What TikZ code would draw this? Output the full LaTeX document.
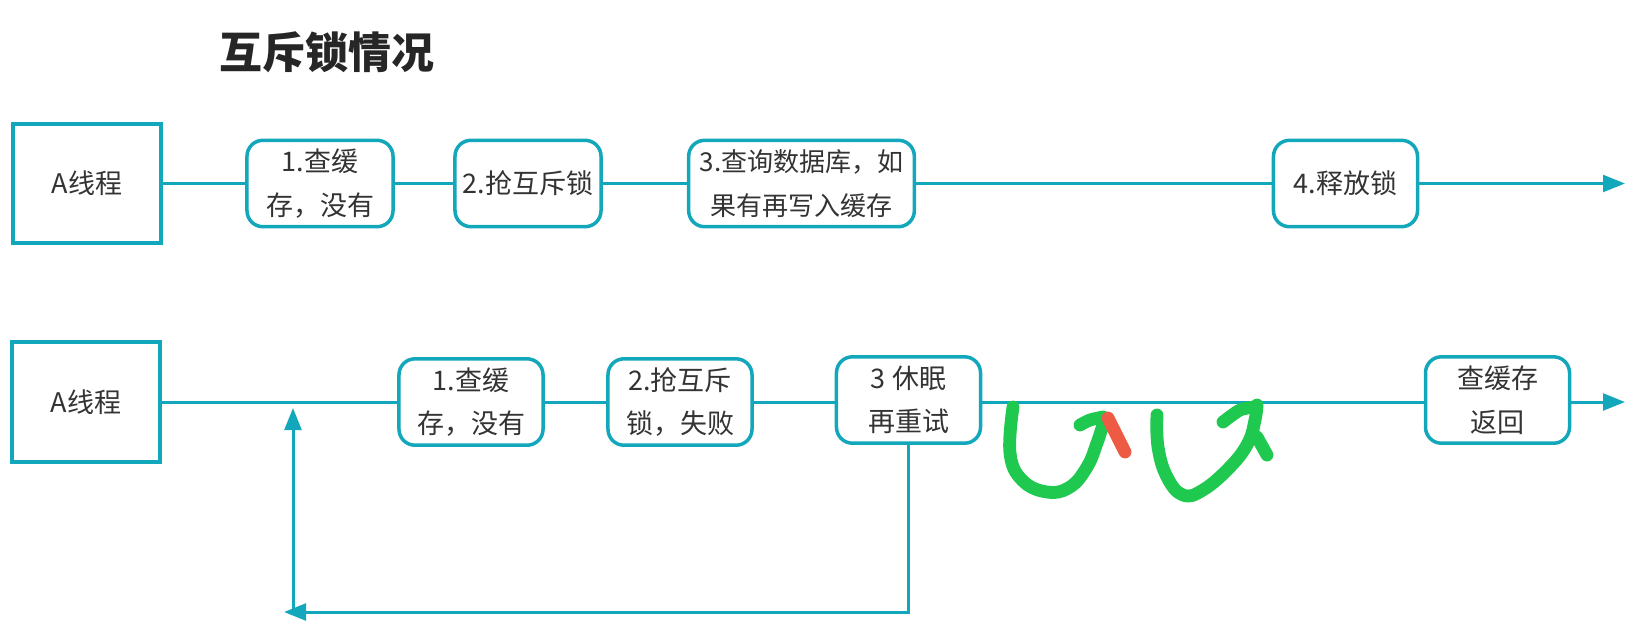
\documentclass[tikz,border=0pt]{standalone}
\usepackage{fontspec}
\setmainfont{Noto Sans CJK SC}
\usepackage{xcolor}
\usetikzlibrary{arrows.meta,positioning}
\definecolor{lineteal}{HTML}{13A7BB}
\definecolor{penGreen}{HTML}{1FC84F}
\definecolor{penRed}{HTML}{EE5B45}
\definecolor{inkgray}{HTML}{333333}

\begin{document}
\begin{tikzpicture}[x=0.025cm, y=-0.025cm, >={Triangle[length=0.55cm,width=0.42cm]}, every node/.style={font=\fontsize{19.2pt}{31pt}\selectfont, text=inkgray}, thread/.style={draw=lineteal, line width=0.1cm, align=center, minimum width=3.7cm, minimum height=2.98cm}, stepbox/.style={draw=lineteal, line width=0.0875cm, rounded corners=0.4cm, align=center, inner xsep=1pt, minimum width=3.65cm, minimum height=2.16cm}, flow/.style={draw=lineteal, line width=0.075cm}, pen/.style={line width=0.32cm, line cap=round, line join=round}]
\useasboundingbox (0,0) rectangle (1630,641);
\node[font=\fontsize{30.5pt}{36pt}\selectfont\bfseries, text=black!85] (title) at (327,52) {互斥锁情况};
% first run: lock acquired
\node[thread] (a1) at (87,183.5) {A线程};
\node[stepbox] (q1) at (320,183.5) {1.查缓\\存，没有};
\node[stepbox] (k1) at (528,183.5) {2.抢互斥锁};
\node[stepbox, minimum width=5.64cm, font=\fontsize{18.5pt}{31pt}\selectfont] (d1) at (801.5,183.5) {3.查询数据库，如\\果有再写入缓存};
\node[stepbox, minimum width=3.6cm] (r1) at (1345.5,183.5) {4.释放锁};
\coordinate (end1) at (1625,183.5);
\draw[flow] (a1) -- (q1) -- (k1) -- (d1) -- (r1);
\draw[flow, ->] (r1) -- (end1);
% second run: lock failed, sleep and retry
\node[thread] (a2) at (86,402) {A线程};
\node[stepbox, minimum width=3.6cm] (q2) at (471,402) {1.查缓\\存，没有};
\node[stepbox, minimum width=3.6cm] (k2) at (680,402) {2.抢互斥\\锁，失败};
\node[stepbox, minimum width=3.6cm] (s2) at (908.5,400) {3 休眠\\再重试};
\node[stepbox, minimum width=3.6cm] (b2) at (1497.5,400) {查缓存\\返回};
\coordinate (end2) at (1625,402);
\draw[flow] (a2) -- (q2) -- (k2) -- (s2.west |- a2) (s2.east |- a2) -- (b2.west |- a2);
\draw[flow, ->] (b2.east |- a2) -- (end2);
\coordinate (back) at (284,612);
\coordinate (rise) at (293,612);
\coordinate (join) at (293,408);
\draw[flow, ->] (s2) |- (back);
\draw[flow, ->] (rise) -- (join);
% pen strokes
\draw[pen, penGreen] plot[smooth, tension=0.7] coordinates {(1013,407) (1010,453) (1022,480) (1047,492) (1070,487) (1087,467) (1097,443) (1105,418)};
\draw[pen, penGreen] plot[smooth] coordinates {(1080,425) (1090,420) (1103,417)};
\draw[pen, penRed] (1108,418) -- (1125,452);
\draw[pen, penGreen] plot[smooth, tension=0.7] coordinates {(1157,415) (1158,447) (1167,477) (1183,495) (1203,490) (1230,467) (1248,443) (1255,420) (1257,405)};
\draw[pen, penGreen] plot[smooth] coordinates {(1223,422) (1240,410) (1255,407)};
\draw[pen, penGreen] (1257,437) -- (1267,455);
\end{tikzpicture}
\end{document}
